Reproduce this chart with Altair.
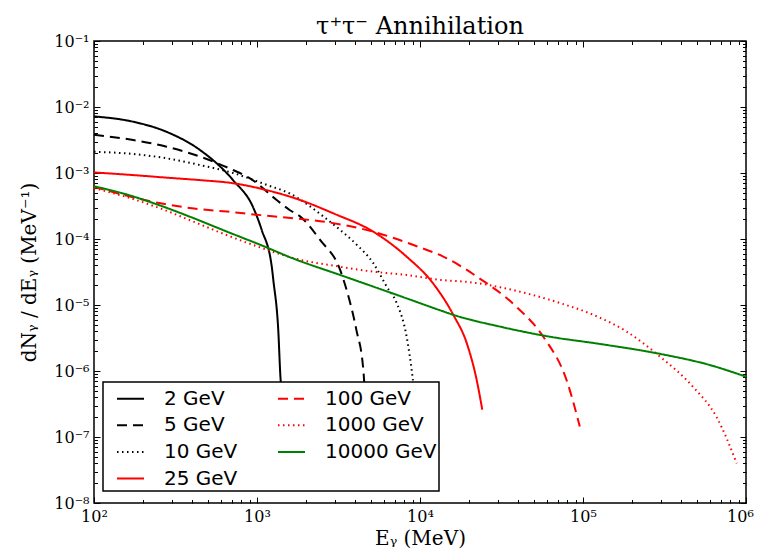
import altair as alt
import pandas as pd

# Gamma-ray spectra dN/dE (MeV^-1) against photon energy E (MeV)
# for tau+ tau- annihilation at several dark-matter masses.
e_2 = [100, 173, 279, 447, 713, 945, 1069, 1232, 1259, 1350, 1397, 1420]
dnde_2 = [7.2e-3, 6.0e-3, 4.2e-3, 2.23e-3, 7.8e-4, 3.05e-4, 1.37e-4, 3.8e-5,
          2.4e-5, 4.2e-6, 7.2e-7, 5.0e-7]

e_5 = [100, 174, 279, 447, 713, 906, 1320, 1585, 1836, 2437, 3236, 3545, 4070,
       4490, 4600]
dnde_5 = [3.8e-3, 3.16e-3, 2.5e-3, 1.77e-3, 1.11e-3, 8.3e-4, 3.9e-4, 2.75e-4,
          2.2e-4, 9.7e-5, 3.4e-5, 1.7e-5, 4.2e-6, 1.04e-6, 4.4e-7]

e_10 = [100, 174, 279, 447, 713, 1148, 1585, 2552, 3236, 4070, 5170, 6250,
        7200, 8280, 9020, 9300]
dnde_10 = [2.1e-3, 1.94e-3, 1.67e-3, 1.32e-3, 1.0e-3, 6.6e-4, 4.9e-4, 2.2e-4,
           1.37e-4, 8.3e-5, 4.3e-5, 1.9e-5, 1.07e-5, 3.3e-6, 7.8e-7, 4.0e-7]

e_25 = [100, 174, 279, 447, 713, 1148, 1836, 2938, 5170, 8280, 12000, 16000,
        19400, 22300, 24100]
dnde_25 = [1.02e-3, 9.3e-4, 8.5e-4, 7.8e-4, 7.0e-4, 5.5e-4, 3.9e-4, 2.45e-4,
           1.29e-4, 5.4e-5, 2.14e-5, 7.1e-6, 2.6e-6, 7.2e-7, 2.6e-7]

e_100 = [100, 160, 256, 410, 656, 1055, 1690, 2938, 5170, 9120, 14600, 22300,
         39200, 57100, 79400, 95600]
dnde_100 = [6.2e-4, 4.5e-4, 3.47e-4, 2.9e-4, 2.6e-4, 2.3e-4, 2.06e-4, 1.74e-4,
            1.29e-4, 8.1e-5, 5.1e-5, 2.7e-5, 9.3e-6, 3.3e-6, 7.2e-7, 1.44e-7]

e_1000 = [100, 160, 256, 410, 656, 1055, 1690, 3236, 5170, 8280, 13300, 19400,
          49600, 72300, 115600, 185000, 296000, 475000, 660000, 877000]
dnde_1000 = [5.9e-4, 4.3e-4, 2.9e-4, 1.82e-4, 1.14e-4, 7.4e-5, 5.1e-5, 3.8e-5,
             3.2e-5, 2.85e-5, 2.4e-5, 2.24e-5, 1.41e-5, 1.07e-5, 7.1e-6,
             3.96e-6, 1.66e-6, 5.7e-7, 2.0e-7, 4.0e-8]

e_10000 = [100, 160, 256, 410, 656, 1055, 1690, 3236, 5170, 8280, 13300, 16000,
           31000, 63000, 127000, 296000, 601000, 1000000]
dnde_10000 = [6.3e-4, 4.7e-4, 3.2e-4, 2.06e-4, 1.29e-4, 8.1e-5, 5.0e-5,
              2.85e-5, 1.9e-5, 1.26e-5, 8.3e-6, 7.1e-6, 4.7e-6, 3.3e-6,
              2.57e-6, 1.82e-6, 1.23e-6, 8.2e-7]

series = [
    ("2 GeV", e_2, dnde_2),
    ("5 GeV", e_5, dnde_5),
    ("10 GeV", e_10, dnde_10),
    ("25 GeV", e_25, dnde_25),
    ("100 GeV", e_100, dnde_100),
    ("1000 GeV", e_1000, dnde_1000),
    ("10000 GeV", e_10000, dnde_10000),
]

rows = []
for label, energies, spectrum in series:
    for e, v in zip(energies, spectrum):
        rows.append({"mass": label, "E": e, "dNdE": v})
df = pd.DataFrame(rows)

mass_order = [label for label, _, _ in series]
line_color = {"2 GeV": "#000000", "5 GeV": "#000000", "10 GeV": "#000000",
              "25 GeV": "#ff0000", "100 GeV": "#ff0000", "1000 GeV": "#ff0000",
              "10000 GeV": "#008000"}
line_dash = {"2 GeV": [1, 0], "5 GeV": [10, 6], "10 GeV": [1.5, 3.5],
             "25 GeV": [1, 0], "100 GeV": [10, 6], "1000 GeV": [1.5, 3.5],
             "10000 GeV": [1, 0]}

x_major = [1e2, 1e3, 1e4, 1e5, 1e6]
x_minor = [m * 10.0 ** k for k in range(2, 6) for m in range(2, 10)]
y_major = [10.0 ** k for k in range(-8, 0)]
y_minor = [m * 10.0 ** k for k in range(-8, -1) for m in range(2, 10)]

x_scale = alt.Scale(type="log", domain=[1e2, 1e6], nice=False)
y_scale = alt.Scale(type="log", domain=[1e-8, 1e-1], nice=False)

# "10" followed by a superscript exponent
pow_label = ("'10' + (round(log(datum.value)/LN10) < 0 ? '\u207b' : '') + "
             "['\u2070','\u00b9','\u00b2','\u00b3','\u2074','\u2075','\u2076',"
             "'\u2077','\u2078','\u2079'][abs(round(log(datum.value)/LN10))]")

MAJOR, MINOR = 6, 3.5


def tick_axis(orient, values, size):
    return alt.Axis(orient=orient, values=values, tickSize=size, offset=-size,
                    labels=False, domain=False, grid=False, title=None)


legend = alt.Legend(
    title=None, orient="none", legendX=9, legendY=341, columns=2,
    columnPadding=28, rowPadding=1.7, symbolType="stroke", symbolSize=729,
    symbolStrokeWidth=2, symbolOffset=11, labelFont="DejaVu Sans",
    labelFontSize=20, labelColor="black", labelOffset=19, padding=2,
    fillColor="white", strokeColor="black", cornerRadius=0,
)

base = alt.Chart(df)

lines = base.mark_line(strokeWidth=2, interpolate="monotone").encode(
    x=alt.X("E:Q", scale=x_scale, axis=alt.Axis(
        orient="bottom", values=x_major, labelExpr=pow_label, tickSize=MAJOR,
        offset=-MAJOR, domain=False, grid=False, labelFlush=False,
        labelPadding=5,
        labelOffset={"condition": {"test": "datum.value >= 1e6", "value": -6},
                     "value": 0},
        title="E\u1d67  (MeV)", titlePadding=4)),
    y=alt.Y("dNdE:Q", scale=y_scale, axis=alt.Axis(
        orient="left", values=y_major, labelExpr=pow_label, tickSize=MAJOR,
        offset=-MAJOR, domain=False, grid=False, labelFlush=False,
        labelPadding=5, title="dN\u1d67 / dE\u1d67  (MeV\u207b\u00b9)",
        titlePadding=14)),
    color=alt.Color("mass:N", scale=alt.Scale(
        domain=mass_order, range=[line_color[k] for k in mass_order]),
        legend=legend),
    strokeDash=alt.StrokeDash("mass:N", scale=alt.Scale(
        domain=mass_order, range=[line_dash[k] for k in mass_order]),
        legend=legend),
)


def ticks_only(x_axis, y_axis):
    return base.mark_line(strokeOpacity=0).encode(
        x=alt.X("E:Q", scale=x_scale, axis=x_axis),
        y=alt.Y("dNdE:Q", scale=y_scale, axis=y_axis),
        detail="mass:N",
    )


mirror_major = ticks_only(tick_axis("top", x_major, MAJOR),
                          tick_axis("right", y_major, MAJOR))
minor_near = ticks_only(tick_axis("bottom", x_minor, MINOR),
                        tick_axis("left", y_minor, MINOR))
minor_far = ticks_only(tick_axis("top", x_minor, MINOR),
                       tick_axis("right", y_minor, MINOR))

chart = (
    alt.layer(lines, mirror_major, minor_near, minor_far)
    .resolve_axis(x="independent", y="independent")
    .properties(
        width=652, height=462, autosize="none",
        padding={"left": 94, "top": 41, "right": 12, "bottom": 55},
        title=alt.Title("\u03c4\u207a\u03c4\u207b  Annihilation",
                        font="DejaVu Serif", fontSize=24, fontWeight="normal",
                        color="black", anchor="middle", offset=-6),
    )
    .configure_view(stroke="black", strokeWidth=1.5)
    .configure_axis(labelFont="DejaVu Serif", labelFontSize=16,
                    labelColor="black", tickColor="black", tickWidth=1,
                    titleFont="DejaVu Serif", titleFontSize=20,
                    titleFontWeight="normal", titleColor="black")
    .configure_legend(strokeWidth=1.5)
)

chart.save("out.html", embed_options={"renderer": "svg", "actions": False})
